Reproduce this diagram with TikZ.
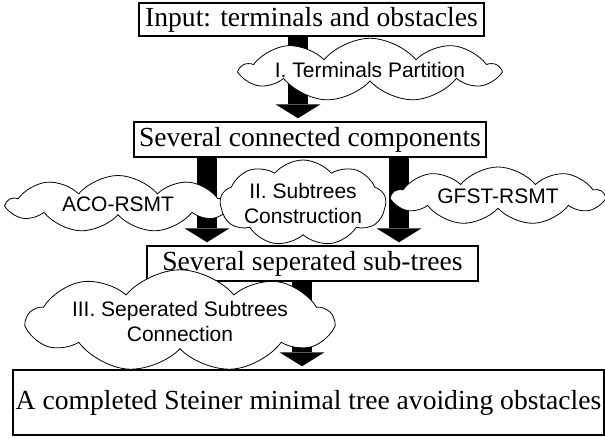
\documentclass[tikz,border=0pt]{standalone}
\usepackage{fontspec}
\setmainfont{Liberation Serif}
\setsansfont{Liberation Sans}
\usetikzlibrary{shapes.symbols,arrows.meta}
\tikzset{
  stage/.style={draw,line width=1.4pt,fill=white,inner sep=0pt,font=\fontsize{27.6}{30}\selectfont},
  puff/.style={cloud,cloud puffs=9,cloud puff arc=100,cloud ignores aspect,draw,line width=0.8pt,
    fill=white,inner sep=0pt,align=center,font=\sffamily\fontsize{21}{25}\selectfont},
  fat/.style={line width=20pt,-{Triangle[length=14pt,width=45pt,line width=0pt]}}
}
\begin{document}
\begin{tikzpicture}[x=1pt,y=-1pt]
  \useasboundingbox (0,0) rectangle (605,438);
  % boxes
  \node[stage,minimum width=345pt,minimum height=33pt] (b1) at (311.5,19.5) {Input: terminals and obstacles};
  \node[stage,minimum width=352pt,minimum height=35pt] (b2) at (310,139.5) {Several connected components};
  \node[stage,minimum width=331pt,minimum height=35pt] (b3) at (312.5,263.5) {Several seperated sub-trees};
  \node[stage,minimum width=591pt,minimum height=65pt] (b4) at (308.5,402.5) {A completed Steiner minimal tree avoiding obstacles};
  % arrow columns
  \coordinate (x1) at (298,0);
  \coordinate (x2) at (207,0);
  \coordinate (x3) at (399,0);
  \coordinate (x4) at (302,0);
  \foreach \src/\dst/\col in {b1/b2/x1,b2/b3/x2,b2/b3/x3,b3/b4/x4}
    \draw[fat] (\src.south -| \col) -- ([yshift=3pt]\dst.north -| \col);
  % clouds
  \node[puff,minimum width=247pt,minimum height=60pt] (c1) at (370,70) {I. Terminals Partition};
  \node[puff,minimum width=220pt,minimum height=57pt] (c2) at (118,204) {ACO-RSMT};
  \node[puff,minimum width=150pt,minimum height=86pt] (c3) at (303,203) {II. Subtrees\\Construction};
  \node[puff,minimum width=210pt,minimum height=58pt] (c4) at (498,196) {GFST-RSMT};
  \node[puff,minimum width=305pt,minimum height=66pt] (c5) at (180,321) {III. Seperated Subtrees\\Connection};
\end{tikzpicture}
\end{document}
